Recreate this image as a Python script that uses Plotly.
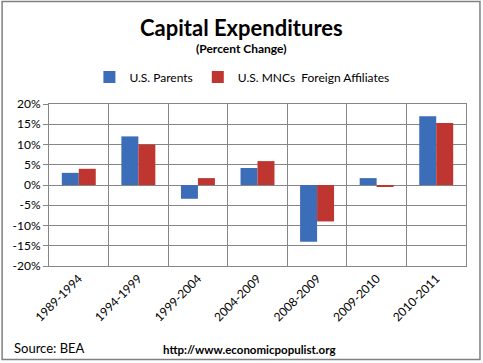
import plotly.graph_objects as go

categories = ["1989-1994", "1994-1999", "1999-2004", "2004-2009", "2008-2009", "2009-2010", "2010-2011"]
us_parents = [3.0, 12.0, -3.4, 4.2, -14.0, 1.7, 17.0]
foreign_affiliates = [4.0, 10.0, 1.7, 5.9, -9.0, -0.4, 15.3]
y_ticks = [-20, -15, -10, -5, 0, 5, 10, 15, 20]
y_tick_labels = ["-20%", "-15%", "-10%", "-5%", "0%", "5%", "10%", "15%", "20%"]

W, H = 483, 363
L, R, T, B = 48.5, 16.5, 104, 97
pw, ph = W - L - R, H - T - B

def px(x):
    return (x - L) / pw

def py(y):
    return (H - B - y) / ph

font = "Lato, Calibri, 'Open Sans', sans-serif"
grid = "#868686"

fig = go.Figure()
fig.add_trace(go.Bar(x=categories, y=us_parents, name="U.S. Parents",
                     marker=dict(color="#3C6DB8", line=dict(width=0))))
fig.add_trace(go.Bar(x=categories, y=foreign_affiliates, name="U.S. MNCs  Foreign Affiliates",
                     marker=dict(color="#BF3631", line=dict(width=0))))

fig.update_layout(
    width=W, height=H,
    margin=dict(l=L, r=R, t=T, b=B, autoexpand=False),
    paper_bgcolor="white", plot_bgcolor="white",
    barmode="group", bargap=0.43, bargroupgap=0,
    font=dict(family=font, size=11, color="#000000"),
    showlegend=True,
    legend=dict(orientation="h", x=px(89), xanchor="left", y=py(77), yanchor="middle",
                font=dict(size=12), itemsizing="constant", traceorder="normal"),
    xaxis=dict(tickangle=-45, tickson="boundaries", showgrid=True, gridcolor=grid, gridwidth=1,
               showline=True, linecolor=grid, mirror=True, ticks="", tickfont=dict(size=12),
               zeroline=False, automargin=False),
    yaxis=dict(range=[-20, 20], tickvals=y_ticks, ticktext=y_tick_labels, showgrid=True, gridcolor=grid,
               gridwidth=1, showline=True, linecolor=grid, mirror=True, ticks="outside",
               ticklen=5, tickcolor=grid, zeroline=True, zerolinecolor=grid, zerolinewidth=1,
               tickfont=dict(size=12), automargin=False),
    annotations=[
        dict(text="<b>Capital Expenditures</b>", x=px(241), y=py(27), xref="paper", yref="paper",
             showarrow=False, font=dict(size=22, family=font), xanchor="center", yanchor="middle"),
        dict(text="<b>(Percent Change)</b>", x=px(241), y=py(48), xref="paper", yref="paper",
             showarrow=False, font=dict(size=12, family=font), xanchor="center", yanchor="middle"),
        dict(text="Source: BEA", x=px(11), y=py(348), xref="paper", yref="paper",
             showarrow=False, font=dict(size=13, family=font), xanchor="left", yanchor="middle"),
        dict(text="<b>http://www.economicpopulist.org</b>", x=px(161), y=py(349), xref="paper", yref="paper",
             showarrow=False, font=dict(size=11.5, family=font), xanchor="left", yanchor="middle"),
    ],
    shapes=[dict(type="rect", xref="paper", yref="paper", x0=px(1.5), x1=px(480.5), y0=py(1.5), y1=py(359.5),
                 line=dict(color="#808080", width=1.5), fillcolor="rgba(0,0,0,0)", layer="below")],
)

fig.write_html("out.html", config={"displayModeBar": False},
               post_script="document.body.style.margin='0';document.body.style.padding='0';")
